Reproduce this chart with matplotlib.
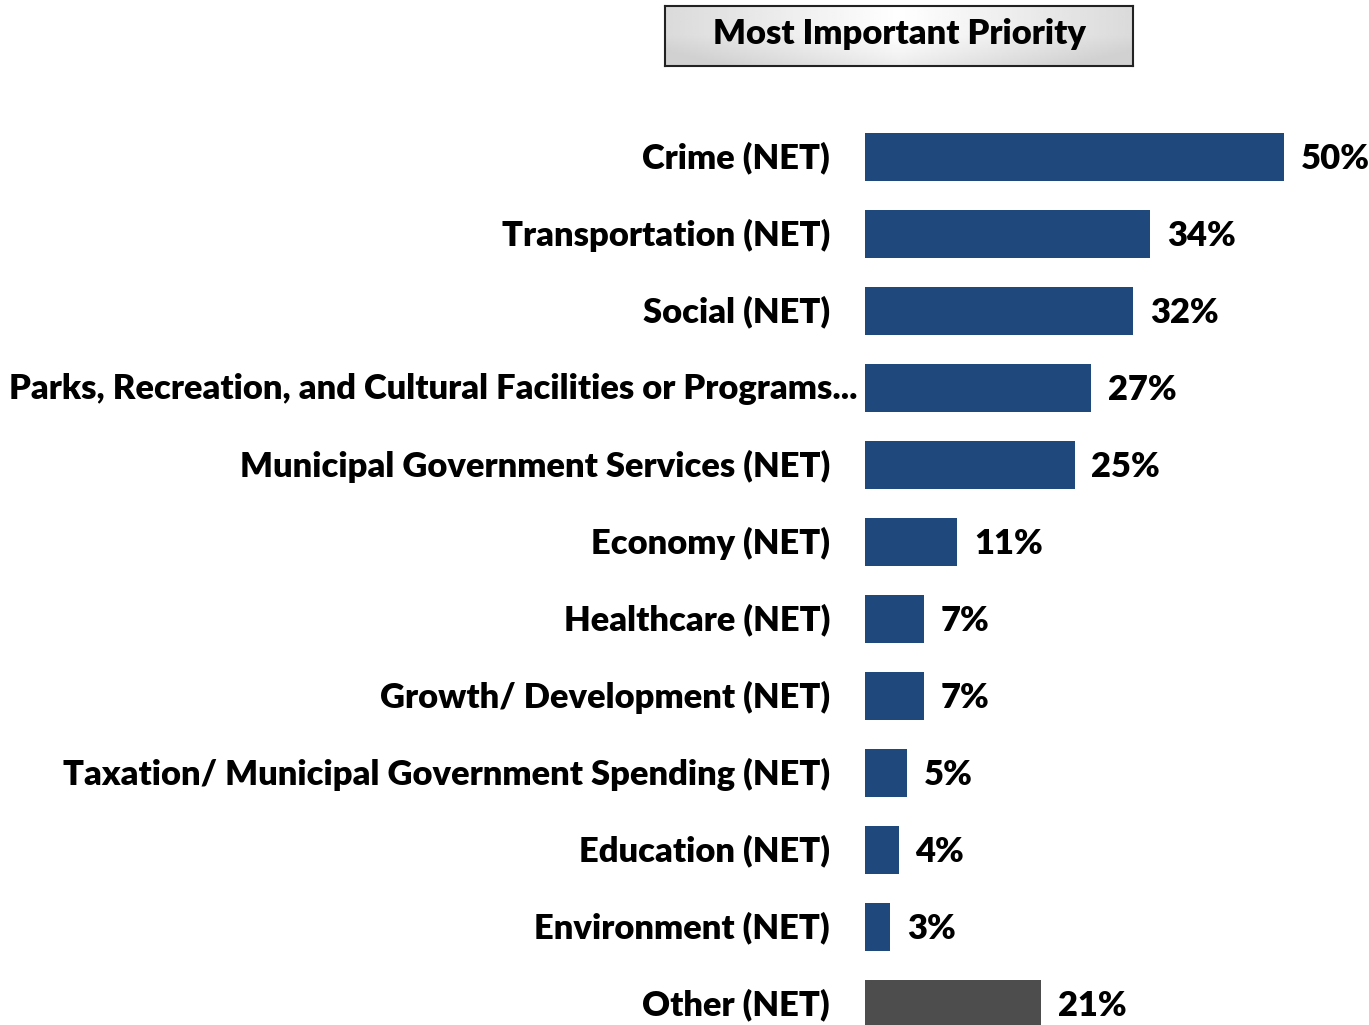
import matplotlib.pyplot as plt
import matplotlib.transforms as mtransforms
import numpy as np

categories = ['Crime (NET)', 'Transportation (NET)', 'Social (NET)',
              'Parks, Recreation, and Cultural Facilities or Programs...',
              'Municipal Government Services (NET)', 'Economy (NET)',
              'Healthcare (NET)', 'Growth/ Development (NET)',
              'Taxation/ Municipal Government Spending (NET)',
              'Education (NET)', 'Environment (NET)', 'Other (NET)']
values = [50, 34, 32, 27, 25, 11, 7, 7, 5, 4, 3, 21]
colors = ['#1f497d'] * 11 + ['#4d4d4d']

plt.rcParams['font.family'] = ['Lato', 'DejaVu Sans']
W, H = 1369, 1025
fig = plt.figure(figsize=(W / 100, H / 100), dpi=100)

# bars axes: left edge at the bar origin, 8.38 px per percent
x0 = 865
ax = fig.add_axes([x0 / W, 0, (W - x0) / W, 1])
ax.set_xlim(0, (W - x0) / 8.38)
top_c, step = 157, 77
ax.set_ylim((H - top_c) / step, -top_c / step)
y = np.arange(len(categories))
ax.barh(y, values, height=48 / step, color=colors)
ax.axis('off')

fs = 24.8
lab = mtransforms.blended_transform_factory(fig.transFigure, ax.transData)
lab = lab + mtransforms.ScaledTranslation(0, 2 / 100, fig.dpi_scale_trans)
for i, (c, v) in enumerate(zip(categories, values)):
    xr = 857 if c.startswith('Parks') else 830
    ax.text(xr / W, i, c, transform=lab, ha='right', va='center_baseline',
            fontsize=fs, fontweight='heavy', color='black')
    ax.annotate(f'{v}%', (v, i), xytext=(17, 1), textcoords='offset pixels',
                ha='left', va='center_baseline', fontsize=fs, fontweight='heavy')

# title box with soft gradient
tb = fig.add_axes([665 / W, (H - 66) / H, 468 / W, 60 / H])
gx = np.linspace(-1, 1, 200)
gy = np.linspace(-1, 1, 40)
X, Y = np.meshgrid(gx, gy)
g = 1 - 0.18 * np.clip(np.abs(X) * 0.8 + np.clip(Y, 0, 1) * 0.4, 0, 1)
tb.imshow(g, cmap='gray', vmin=0, vmax=1, aspect='auto', extent=(0, 1, 0, 1))
tb.set_xticks([])
tb.set_yticks([])
for s in tb.spines.values():
    s.set_linewidth(1.5)
    s.set_color('#222222')
tb.text(0.5, 0.54, 'Most Important Priority', ha='center', va='center',
        fontsize=fs, fontweight='heavy', transform=tb.transAxes)

fig.savefig('out.png', dpi=100)
